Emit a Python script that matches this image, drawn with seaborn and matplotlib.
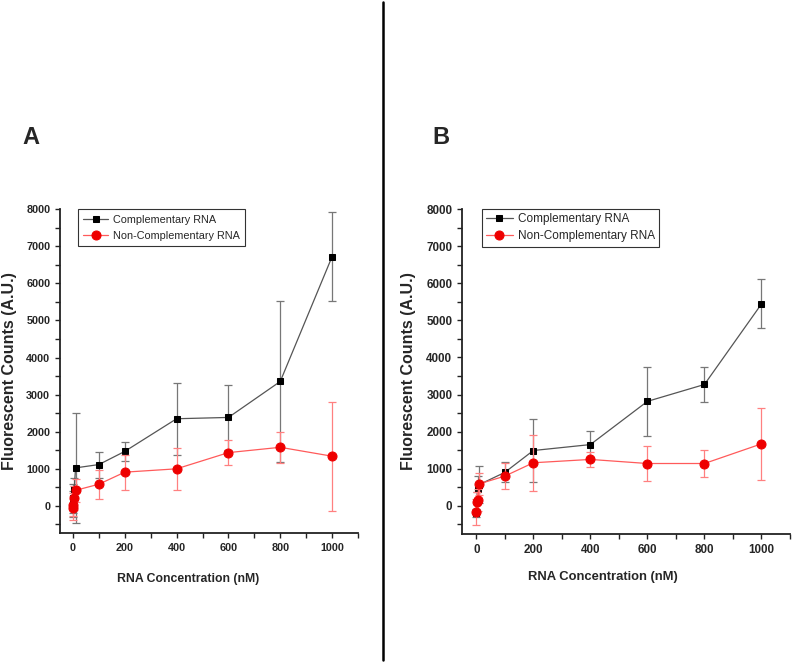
import numpy as np
import pandas as pd
import matplotlib
matplotlib.use("Agg")
import matplotlib.pyplot as plt
import seaborn as sns
from matplotlib.lines import Line2D
from matplotlib.ticker import MultipleLocator

# RNA concentrations (nM)
conc = [0, 1, 5, 10, 100, 200, 400, 600, 800, 1000]

# Panel A
a_comp = [50, 200, 460, 1025, 1115, 1470, 2350, 2385, 3355, 6720]
a_comp_err = [350, 400, 300, 1490, 350, 260, 975, 880, 2165, 1190]
a_non = [-55, 35, 215, 420, 585, 910, 1000, 1437, 1580, 1340]
a_non_err = [320, 320, 330, 310, 390, 470, 570, 335, 420, 1470]

# Panel B
b_comp = [-190, 115, 450, 570, 900, 1490, 1650, 2815, 3270, 5440]
b_comp_err = [110, 250, 350, 500, 270, 850, 370, 930, 480, 660]
b_non = [-155, 100, 160, 590, 800, 1160, 1250, 1140, 1140, 1670]
b_non_err = [350, 280, 300, 300, 360, 750, 210, 460, 360, 970]

panel_labels = ["A", "B"]
series_names = ["Complementary RNA", "Non-Complementary RNA"]

sns.set_style("ticks")
plt.rcParams['font.family'] = ['Liberation Sans', 'DejaVu Sans']

fig = plt.figure(figsize=(8, 6.65), dpi=100)
ax_a = fig.add_axes([0.075, 0.1985, 0.3725, 0.487])
ax_b = fig.add_axes([0.5775, 0.197, 0.41, 0.4887])


def draw_panel(ax, comp, comp_err, non, non_err, ylow, fs, leg_fs, leg_bp, leg_ls,
               ylab_x, xlab_y):
    df = pd.DataFrame({"conc": conc, "comp": comp, "non": non})
    ax.errorbar(conc, comp, yerr=comp_err, fmt='none', ecolor='#777777',
                elinewidth=0.9, capsize=3, capthick=0.9, zorder=2)
    sns.lineplot(data=df, x="conc", y="comp", ax=ax, color='#555555', lw=0.9,
                 marker='s', markersize=5, mfc='black', mec='black',
                 label=series_names[0], zorder=3)
    ax.errorbar(conc, non, yerr=non_err, fmt='none', ecolor='#ff8080',
                elinewidth=0.9, capsize=3, capthick=0.9, zorder=4)
    sns.lineplot(data=df, x="conc", y="non", ax=ax, color='#ff5a5a', lw=0.9,
                 marker='o', markersize=6.5, mfc='#ee0000', mec='#ee0000',
                 label=series_names[1], zorder=5)
    ax.set_xlim(-50, 1100)
    ax.set_ylim(ylow, 8000)
    ax.xaxis.set_major_locator(MultipleLocator(200))
    ax.xaxis.set_minor_locator(MultipleLocator(100))
    ax.yaxis.set_major_locator(MultipleLocator(1000))
    ax.yaxis.set_minor_locator(MultipleLocator(500))
    ax.tick_params(which='both', direction='out', length=3.5, width=1,
                   labelsize=fs, color='#222222')
    for lab in ax.get_xticklabels() + ax.get_yticklabels():
        lab.set_fontweight('bold')
    ax.set_xlabel("RNA Concentration (nM)", fontsize=fs + 1, fontweight='bold')
    ax.set_ylabel("Fluorescent Counts (A.U.)", fontsize=11.5, fontweight='bold')
    ax.xaxis.set_label_coords(0.43, xlab_y)
    ax.yaxis.set_label_coords(ylab_x, 0.5)
    sns.despine(ax=ax)
    for s in ['left', 'bottom']:
        ax.spines[s].set_linewidth(1.3)
        ax.spines[s].set_color('#222222')
    leg = ax.legend(loc='upper left', bbox_to_anchor=(0.06, 1.0), borderaxespad=0,
                    fontsize=leg_fs, frameon=True, fancybox=False, edgecolor='black',
                    handlelength=2.3, borderpad=leg_bp, labelspacing=leg_ls,
                    handletextpad=0.4)
    leg.get_frame().set_linewidth(0.8)


draw_panel(ax_a, a_comp, a_comp_err, a_non, a_non_err, -730, 7.8, 7.8, 0.5, 0.6,
           -0.144, -0.125)
draw_panel(ax_b, b_comp, b_comp_err, b_non, b_non_err, -760, 8.4, 8.5, 0.35, 0.45,
           -0.14, -0.115)

fig.text(22 / 800, 1 - 138 / 665, panel_labels[0], fontsize=17, fontweight='bold',
         ha='left', va='center')
fig.text(432 / 800, 1 - 138 / 665, panel_labels[1], fontsize=17, fontweight='bold',
         ha='left', va='center')

fig.add_artist(Line2D([383 / 800, 383 / 800], [1 - 2 / 665, 1 - 660 / 665],
                      color='black', lw=1.8))

fig.savefig("out.png", dpi=100)
